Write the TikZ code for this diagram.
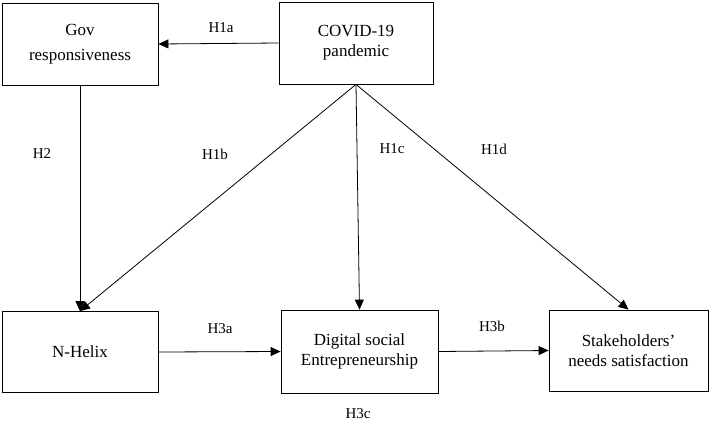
\documentclass[tikz,border=0pt]{standalone}
\usepackage{fontspec}
\setmainfont{Liberation Serif}
\usetikzlibrary{arrows.meta,positioning}

\begin{document}
\begin{tikzpicture}[x=1pt, y=-1pt,
    varbox/.style={draw, line width=0.8pt, minimum width=156pt, minimum height=82pt,
        align=center, font=\fontsize{17}{20}\selectfont, inner sep=0pt},
    hyp/.style={font=\fontsize{15}{18}\selectfont},
    link/.style={line width=0.8pt, -{Triangle[length=10pt, width=9pt]}}]
    \useasboundingbox (0,0) rectangle (709,437);

    % Boxes
    \node[varbox, font=\fontsize{17}{25}\selectfont] (gov) at (80,44) {Gov\\responsiveness};
    \node[varbox, minimum width=154pt] (covid) at (356,43) {COVID-19\\pandemic};
    \node[varbox, minimum height=81pt] (nhelix) at (80,352) {N-Helix};
    \node[varbox, minimum width=157pt, minimum height=83pt] (dse) at (359.5,351.5) {Digital social\\Entrepreneurship};
    \node[varbox, minimum width=159pt, minimum height=81pt] (stake) at (628.5,350.5) {Stakeholders'\\needs satisfaction};

    % Paths
    \draw[link] (covid.west) -- (gov.east);
    \draw[link] (gov.south) -- (nhelix.north);
    \draw[link] (covid.south) -- (nhelix.north);
    \draw[link] (covid.south) -- (dse.north);
    \draw[link] (covid.south) -- (stake.north);
    \draw[link] (nhelix.east) -- (dse.west);
    \draw[link] (dse.east) -- (stake.west);

    % Hypothesis labels
    \node[hyp] (h1a) at (221,28) {H1a};
    \node[hyp] (h2) at (42,154) {H2};
    \node[hyp] (h1b) at (215,154) {H1b};
    \node[hyp] (h1c) at (392,149) {H1c};
    \node[hyp] (h1d) at (494,149) {H1d};
    \node[hyp] (h3a) at (220,329) {H3a};
    \node[hyp] (h3b) at (492,326) {H3b};
    \node[hyp] (h3c) at (358,414) {H3c};
\end{tikzpicture}
\end{document}
